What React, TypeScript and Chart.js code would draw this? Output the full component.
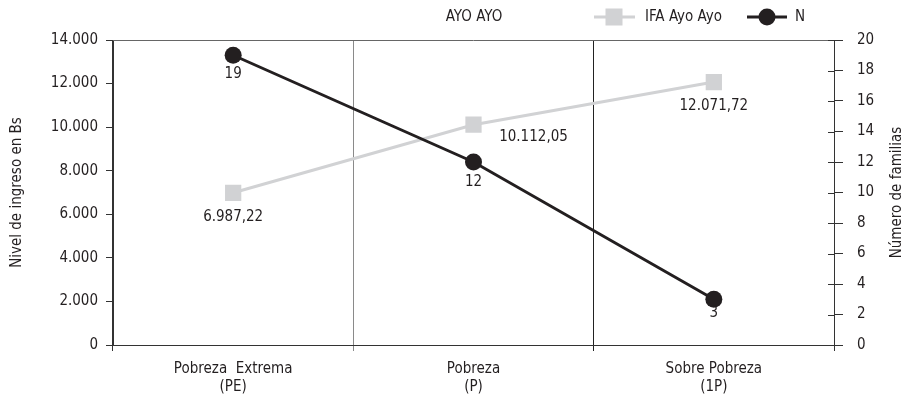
import React, { useEffect, useRef } from "react";
import { Chart, registerables } from "chart.js";

Chart.register(...registerables);

const categories: string[][] = [["Pobreza  Extrema", "(PE)"], ["Pobreza", "(P)"], ["Sobre Pobreza", "(1P)"]];
const ifaValues = [6987.22, 10112.05, 12071.72];
const nValues = [19, 12, 3];
const leftTicks = [0, 2000, 4000, 6000, 8000, 10000, 12000, 14000];
const rightTicks = [0, 2, 4, 6, 8, 10, 12, 14, 16, 18, 20];
const titleText = "AYO AYO";
const ifaLabel = "IFA Ayo Ayo";
const nLabel = "N";
const leftTitle = "Nivel de ingreso en Bs";
const rightTitle = "Número de familias";

const FONT = '"DejaVu Sans Condensed", "Liberation Sans", Arial, sans-serif';
const FS = 15;
const TEXT = "#231f20";
const GRAY = "#d1d2d4";
const BLACK = "#231f20";
const AXIS = "#333333";

const thousands = (s: string) => s.replace(/\B(?=(\d{3})+(?!\d))/g, ".");
const fmtInt = (v: number) => thousands(String(Math.round(v)));
const fmtDec = (v: number) => {
  const [i, d] = v.toFixed(2).split(".");
  return thousands(i) + "," + d;
};

// label offsets relative to point (style)
const ifaLabelOffsets = [[0, 24], [60, 12], [0, 24]];
const nLabelOffsets = [[0, 19], [0, 20], [0, 14]];

const decorPlugin = {
  id: "decor",
  afterDraw(chart: any) {
    const ctx = chart.ctx;
    const { left, right, top, bottom } = chart.chartArea;
    ctx.save();
    // top border
    ctx.strokeStyle = "#666666";
    ctx.lineWidth = 1;
    ctx.beginPath();
    ctx.moveTo(left, top + 0.5);
    ctx.lineTo(right, top + 0.5);
    ctx.stroke();
    // inner ticks on right axis
    const y1 = chart.scales.y1;
    ctx.strokeStyle = AXIS;
    ctx.beginPath();
    rightTicks.forEach((t) => {
      const yy = Math.round(y1.getPixelForValue(t)) + 0.5;
      ctx.moveTo(right - 6, yy);
      ctx.lineTo(right, yy);
    });
    ctx.stroke();

    ctx.font = `${FS}px ${FONT}`;
    ctx.fillStyle = TEXT;
    ctx.textBaseline = "middle";
    // title
    ctx.textAlign = "center";
    ctx.fillText(titleText, 474, 17);
    // legend
    const ly = 17;
    ctx.strokeStyle = GRAY;
    ctx.lineWidth = 3;
    ctx.beginPath();
    ctx.moveTo(594, ly);
    ctx.lineTo(635, ly);
    ctx.stroke();
    ctx.fillStyle = GRAY;
    ctx.fillRect(614 - 8.5, ly - 8.5, 17, 17);
    ctx.fillStyle = TEXT;
    ctx.textAlign = "left";
    ctx.fillText(ifaLabel, 645, ly);
    ctx.strokeStyle = BLACK;
    ctx.beginPath();
    ctx.moveTo(747, ly);
    ctx.lineTo(787, ly);
    ctx.stroke();
    ctx.fillStyle = BLACK;
    ctx.beginPath();
    ctx.arc(767, ly, 8.5, 0, Math.PI * 2);
    ctx.fill();
    ctx.fillStyle = TEXT;
    ctx.fillText(nLabel, 795, ly);

    // axis titles
    const cy = (top + bottom) / 2;
    ctx.textAlign = "center";
    ctx.save();
    ctx.translate(17, cy);
    ctx.rotate(-Math.PI / 2);
    ctx.fillText(leftTitle, 0, 0);
    ctx.restore();
    ctx.save();
    ctx.translate(897, cy);
    ctx.rotate(-Math.PI / 2);
    ctx.fillText(rightTitle, 0, 0);
    ctx.restore();

    // data labels
    const m0 = chart.getDatasetMeta(0);
    const m1 = chart.getDatasetMeta(1);
    m0.data.forEach((p: any, i: number) => {
      const o = ifaLabelOffsets[i];
      ctx.fillText(fmtDec(ifaValues[i]), p.x + o[0], p.y + o[1]);
    });
    m1.data.forEach((p: any, i: number) => {
      const o = nLabelOffsets[i];
      ctx.fillText(String(nValues[i]), p.x + o[0], p.y + o[1]);
    });
    ctx.restore();
  },
};

export default function App() {
  const ref = useRef<HTMLCanvasElement | null>(null);
  useEffect(() => {
    if (!ref.current) return;
    Chart.defaults.font.family = FONT;
    Chart.defaults.font.size = FS;
    Chart.defaults.color = TEXT;
    const xGridColors = [AXIS, "#8a8a8a", "#222222", AXIS];
    const chart = new Chart(ref.current, {
      type: "line",
      data: {
        labels: categories as any,
        datasets: [
          {
            label: ifaLabel,
            data: ifaValues,
            yAxisID: "y",
            borderColor: GRAY,
            backgroundColor: GRAY,
            borderWidth: 3,
            pointStyle: "rect",
            pointRadius: 11.5,
            pointBorderWidth: 0,
            pointBackgroundColor: GRAY,
            order: 2,
          },
          {
            label: nLabel,
            data: nValues,
            yAxisID: "y1",
            borderColor: BLACK,
            backgroundColor: BLACK,
            borderWidth: 3,
            pointStyle: "circle",
            pointRadius: 8.5,
            pointBorderWidth: 0,
            pointBackgroundColor: BLACK,
            order: 1,
          },
        ],
      },
      options: {
        responsive: false,
        animation: false,
        layout: { padding: { top: 40, left: 0, right: 0, bottom: 0 } },
        plugins: { legend: { display: false }, title: { display: false }, tooltip: { enabled: false } },
        scales: {
          x: {
            offset: true,
            grid: {
              offset: true,
              drawOnChartArea: true,
              tickLength: 6,
              color: (c: any) => xGridColors[c.index] ?? AXIS,
            },
            border: { color: AXIS },
            ticks: { padding: 9, maxRotation: 0, autoSkip: false, font: { size: FS, lineHeight: 1.2 } },
            afterFit: (s: any) => { s.height = 49; },
          },
          y: {
            position: "left",
            min: 0,
            max: 14000,
            afterBuildTicks: (s: any) => { s.ticks = leftTicks.map((v) => ({ value: v })); },
            ticks: { padding: 8, callback: (v: any) => fmtInt(Number(v)) },
            grid: { drawOnChartArea: false, tickLength: 7, color: AXIS },
            border: { color: AXIS },
            afterFit: (s: any) => { s.width = 113; },
          },
          y1: {
            position: "right",
            min: 0,
            max: 20,
            afterBuildTicks: (s: any) => { s.ticks = rightTicks.map((v) => ({ value: v })); },
            ticks: { padding: 14, callback: (v: any) => String(v) },
            grid: { drawOnChartArea: false, tickLength: 9, color: AXIS },
            border: { color: AXIS },
            afterFit: (s: any) => { s.width = 71; },
          },
        },
      },
      plugins: [decorPlugin],
    });
    return () => chart.destroy();
  }, []);
  return (
    <div style={{ position: "absolute", left: 0, top: 0, width: 905, height: 394, background: "#fff" }}>
      <canvas ref={ref} width={905} height={394} style={{ display: "block" }} />
    </div>
  );
}
